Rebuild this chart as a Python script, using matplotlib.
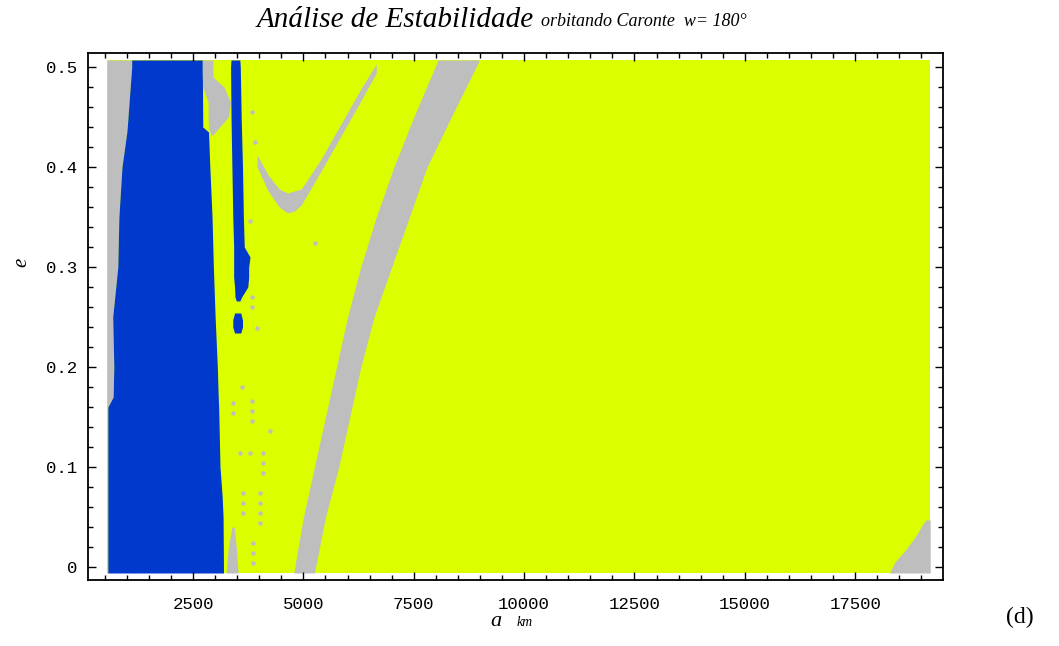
import matplotlib.pyplot as plt
import numpy as np
from matplotlib.ticker import MultipleLocator

# extent of the (a, e) integration grid
a_span = [550, 19200]
e_span = [-0.006, 0.507]

# main blue block (rows of e, left/right edge in km)
blue_e = [-0.006, 0.05, 0.07, 0.10, 0.16, 0.17, 0.20, 0.25, 0.30, 0.35, 0.40, 0.435, 0.44, 0.50, 0.507]
blue_left = [570, 570, 570, 570, 570, 690, 705, 680, 795, 820, 890, 1000, 1010, 1110, 1110]
blue_right = [3190, 3180, 3160, 3110, 3080, 3070, 3050, 3000, 2960, 2930, 2880, 2850, 2720, 2710, 2710]

# thin blue line at a ~ 3500 km
thin_e = [0.266, 0.27, 0.28, 0.29, 0.30, 0.31, 0.32, 0.35, 0.40, 0.45, 0.50, 0.507]
thin_left = [3480, 3450, 3440, 3420, 3420, 3420, 3420, 3400, 3380, 3360, 3350, 3360]
thin_right = [3560, 3600, 3740, 3760, 3760, 3790, 3660, 3640, 3620, 3590, 3570, 3560]
blob_e = [0.234, 0.240, 0.247, 0.254]
blob_left = [3440, 3400, 3400, 3440]
blob_right = [3580, 3620, 3620, 3580]

# gray patches
gap_e = [0.432, 0.44, 0.45, 0.465, 0.48, 0.49, 0.507]
gap_left = [2900, 2850, 2840, 2840, 2720, 2710, 2710]
gap_right = [2950, 3100, 3300, 3350, 3200, 2950, 2950]

foot_e = [-0.006, 0.02, 0.04]
foot_left = [3250, 3300, 3380]
foot_right = [3520, 3480, 3430]

band_e = [-0.006, 0.05, 0.1, 0.15, 0.2, 0.25, 0.3, 0.35, 0.4, 0.45, 0.507]
band_left = [4780, 5000, 5250, 5500, 5750, 6000, 6300, 6650, 7050, 7500, 8050]
band_right = [5250, 5500, 5800, 6050, 6300, 6600, 7000, 7400, 7800, 8350, 8990]

v_a = [3950, 4200, 4450, 4640, 4800, 4950, 5400, 5850, 6300, 6650]
v_lo = [0.400, 0.376, 0.360, 0.354, 0.356, 0.362, 0.396, 0.431, 0.466, 0.494]
v_hi = [0.412, 0.392, 0.378, 0.374, 0.376, 0.378, 0.408, 0.443, 0.478, 0.503]

corner_e = [-0.006, 0.005, 0.017, 0.03, 0.042, 0.047]
corner_left = [18280, 18400, 18640, 18860, 19020, 19100]

# isolated gray points inside the stable zone
dots_a = [3614, 3410, 3410, 3840, 3840, 3840, 4250, 3568, 3795, 4090, 4090, 4090,
          3636, 4023, 3636, 4023, 3636, 4023, 4023, 3864, 3864, 3864,
          3840, 3909, 3795, 5273, 3840, 3840, 3955]
dots_e = [0.18, 0.164, 0.154, 0.166, 0.156, 0.146, 0.136, 0.114, 0.114, 0.114, 0.104, 0.094,
          0.074, 0.074, 0.064, 0.064, 0.054, 0.054, 0.044, 0.024, 0.014, 0.004,
          0.455, 0.425, 0.346, 0.324, 0.27, 0.26, 0.239]

yellow = '#dcff00'
blue = '#0039cc'
gray = '#bebebe'

fig = plt.figure(figsize=(10.59, 6.46), dpi=100)
ax = fig.add_axes([88 / 1059, 1 - 580 / 646, 855 / 1059, 527 / 646])

ax.fill_between(a_span, e_span[0], e_span[1], color=yellow, lw=0)
ax.fill_betweenx(blue_e, a_span[0], blue_left, color=gray, lw=0)
ax.fill_betweenx(blue_e, blue_left, blue_right, color=blue, lw=0)
ax.fill_betweenx(gap_e, gap_left, gap_right, color=gray, lw=0)
ax.fill_betweenx(foot_e, foot_left, foot_right, color=gray, lw=0)
ax.fill_betweenx(thin_e, thin_left, thin_right, color=blue, lw=0)
ax.fill_betweenx(blob_e, blob_left, blob_right, color=blue, lw=0)
ax.fill_betweenx(band_e, band_left, band_right, color=gray, lw=0)
ax.fill_between(v_a, v_lo, v_hi, color=gray, lw=0)
ax.fill_betweenx(corner_e, corner_left, a_span[1], color=gray, lw=0)
ax.scatter(dots_a, dots_e, s=10, color=gray, lw=0)

ax.set_xlim(120, 19490)
ax.set_ylim(-0.013, 0.514)
ax.xaxis.set_major_locator(MultipleLocator(2500))
ax.xaxis.set_minor_locator(MultipleLocator(500))
ax.yaxis.set_major_locator(MultipleLocator(0.1))
ax.yaxis.set_minor_locator(MultipleLocator(0.02))
ax.set_xticks([2500, 5000, 7500, 10000, 12500, 15000, 17500])
ax.set_yticks([0, 0.1, 0.2, 0.3, 0.4, 0.5])
ax.set_yticklabels(['0', '0.1', '0.2', '0.3', '0.4', '0.5'])
ax.tick_params(which='both', direction='in', top=True, right=True, width=1)
ax.tick_params(which='major', length=6)
ax.tick_params(which='minor', length=3.5)
ax.tick_params(axis='x', pad=12)
ax.tick_params(axis='y', pad=8)
for lab in ax.get_xticklabels() + ax.get_yticklabels():
    lab.set_fontfamily('Liberation Mono')
    lab.set_fontsize(12.5)
for s in ax.spines.values():
    s.set_linewidth(1.3)

fig.text(257 / 1059, 1 - 20 / 646, 'Análise de Estabilidade', family='Liberation Serif',
         style='italic', fontsize=21, va='center', ha='left')
fig.text(541 / 1059, 1 - 22 / 646, 'orbitando Caronte  w= 180°', family='Liberation Serif',
         style='italic', fontsize=13, va='center', ha='left')
fig.text(490 / 1059, 1 - 621 / 646, 'a', family='Liberation Serif', style='italic',
         fontsize=16, va='center', ha='left')
fig.text(517 / 1059, 1 - 622 / 646, 'km', family='Liberation Serif', style='italic',
         fontsize=10, va='center', ha='left')
fig.text(22 / 1059, 1 - 262 / 646, 'e', family='Liberation Serif', style='italic',
         fontsize=15, va='center', ha='center', rotation=90)
fig.text(1020 / 1059, 1 - 617 / 646, '(d)', family='Liberation Serif',
         fontsize=17, va='center', ha='center')

fig.savefig('out.png', dpi=100)
